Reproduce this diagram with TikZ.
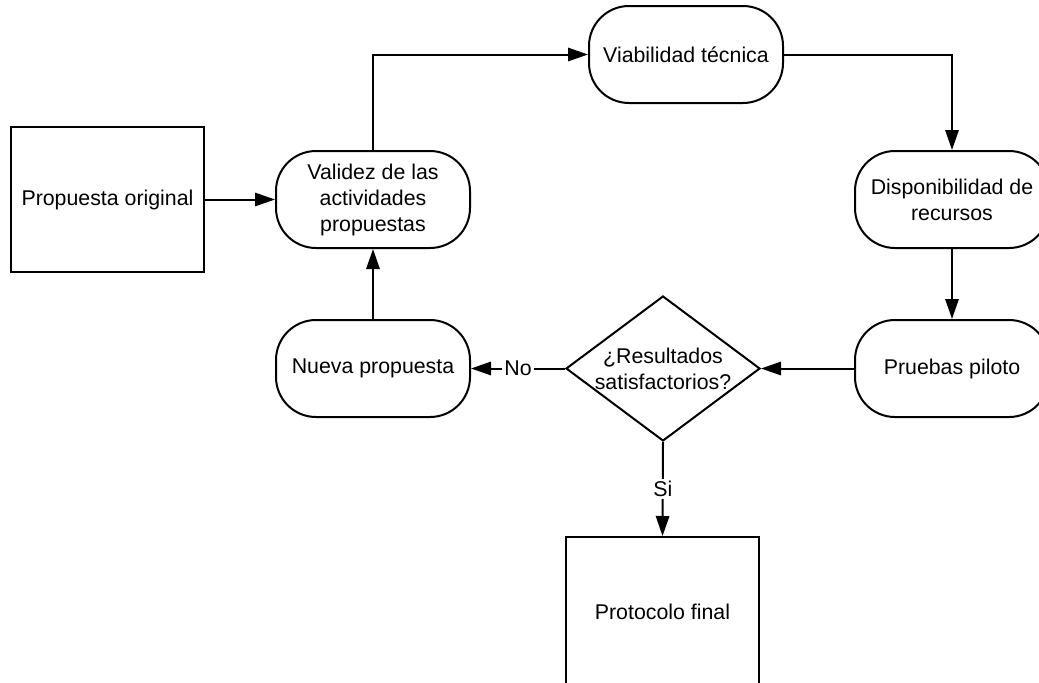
\documentclass[tikz,border=0pt]{standalone}
\usepackage{fontspec}
\setmainfont{Liberation Sans}
\usepackage{xcolor}
\usepackage{tikz}
\usetikzlibrary{shapes,arrows.meta}
\tikzset{
    proceso/.style={
        draw=black,
        fill=white,
        rectangle,
        rounded corners=30pt,
        align=center,
        minimum height=72.75pt,
        minimum width=145.5pt,
        line width=1.5pt,
        font=\fontsize{16}{19.5}\selectfont
    },
    caja/.style={
        draw=black,
        fill=white,
        rectangle,
        align=center,
        minimum width=145pt,
        line width=1.5pt,
        font=\fontsize{16}{19.5}\selectfont
    },
    decision/.style={
        draw=black,
        fill=white,
        diamond,
        shape aspect=1.34,
        inner sep=0pt,
        align=center,
        minimum width=145.5pt,
        minimum height=108.75pt,
        line width=1.5pt,
        font=\fontsize{16}{19.5}\selectfont
    },
    arrow/.style={
        ->,
        >={Triangle[length=15pt,width=10pt]},
        line width=1.5pt,
        color=black
    },
    etiqueta/.style={
        font=\fontsize{16}{19.5}\selectfont,
        midway,
        fill=white,
        inner sep=1.5pt
    }
}

\begin{document}
\begin{tikzpicture}[x=0.75pt, y=-0.75pt]
    \useasboundingbox (0,0) rectangle (1039,682);
    % Nodos
    \node[caja, minimum height=108.75pt] (orig) at (107.5,199.5) {Propuesta original};
    \node[proceso] (valid) at (373,199.5) {Validez de las\\actividades\\propuestas};
    \node[proceso] (viab) at (686,54.5) {Viabilidad técnica};
    \node[proceso] (dispo) at (952,199.5) {Disponibilidad de\\recursos};
    \node[proceso] (pruebas) at (952,368.5) {Pruebas piloto};
    \node[decision] (resul) at (663,368.5) {¿Resultados\\satisfactorios?};
    \node[proceso] (nueva) at (373,368.5) {Nueva propuesta};
    \node[caja, minimum height=112.5pt] (proto) at (662.5,612) {Protocolo final};

    % Conexiones
    \draw[arrow] (orig.east) -- (valid.west);
    \draw[arrow] (valid.north) |- (viab.west);
    \draw[arrow] (viab.east) -| (dispo.north);
    \draw[arrow] (dispo.south) -- (pruebas.north);
    \draw[arrow] (pruebas.west) -- (resul.east);
    \draw[arrow] (resul.west) -- (nueva.east) node[etiqueta] {No};
    \draw[arrow] (resul.south) -- (proto.north) node[etiqueta] {Si};
    \draw[arrow] (nueva.north) -- (valid.south);
\end{tikzpicture}
\end{document}
